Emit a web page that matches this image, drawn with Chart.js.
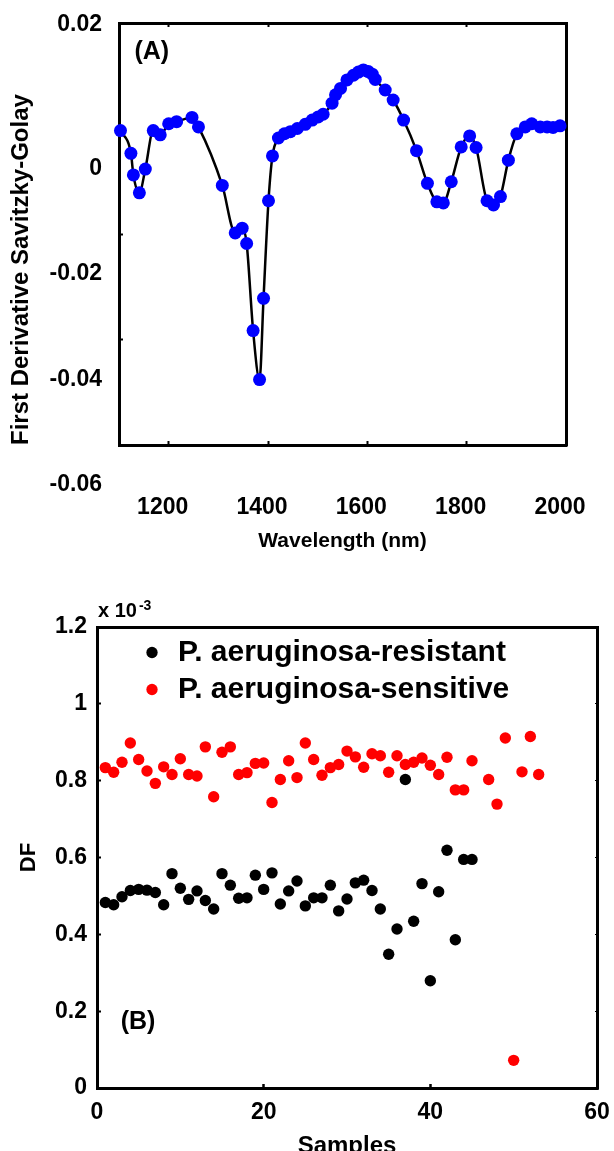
<!DOCTYPE html>
<html>
<head>
<meta charset="utf-8">
<script src="https://cdn.jsdelivr.net/npm/chart.js@4.4.1/dist/chart.umd.min.js"></script>
<style>
  html, body { margin: 0; padding: 0; background: #fff; overflow: hidden; }
  #boxA { position: absolute; left: 0; top: 0; width: 614px; height: 560px; }
  #boxB { position: absolute; left: 0; top: 580px; width: 614px; height: 600px; }
</style>
</head>
<body>
<div id="boxA"><canvas id="chartA" width="614" height="560"></canvas></div>
<div id="boxB"><canvas id="chartB" width="614" height="600"></canvas></div>
<script>
// (A) first derivative spectrum
const wavelength = [1103, 1124, 1129, 1141, 1153, 1169, 1183, 1200, 1216, 1247,
                    1260, 1308, 1334, 1348, 1357, 1370, 1383, 1391, 1401, 1409,
                    1421, 1433, 1445, 1459, 1475, 1489, 1501, 1511, 1529, 1536,
                    1546, 1559, 1572, 1582, 1592, 1602, 1610, 1616, 1636, 1652,
                    1673, 1699, 1721, 1740, 1753, 1769, 1789, 1806, 1819, 1841,
                    1854, 1868, 1884, 1901, 1918, 1931, 1948, 1962, 1974, 1988];
const derivative = [-0.0004, -0.0047, -0.0088, -0.0122, -0.0077, -0.0004, -0.0012, 0.0009, 0.0013, 0.0021,
                    0.0003, -0.0108, -0.0198, -0.0189, -0.0218, -0.0383, -0.0476, -0.0322, -0.0137, -0.0052,
                    -0.0018, -0.0010, -0.0006, 0.0000, 0.0008, 0.0016, 0.0022, 0.0027, 0.0048, 0.0064,
                    0.0076, 0.0092, 0.0101, 0.0107, 0.0111, 0.0108, 0.0103, 0.0093, 0.0073, 0.0054,
                    0.0016, -0.0042, -0.0104, -0.0139, -0.0141, -0.0101, -0.0035, -0.0014, -0.0036, -0.0137,
                    -0.0145, -0.0129, -0.0060, -0.0010, 0.0003, 0.0009, 0.0003, 0.0003, 0.0002, 0.0005];
const xTicksA = [1200, 1400, 1600, 1800, 2000];
const xLabelsA = ['1200', '1400', '1600', '1800', '2000'];
const yTicksA = [-0.06, -0.04, -0.02, 0, 0.02];
const yLabelsA = ['-0.06', '-0.04', '-0.02', '0', '0.02'];

// (B) DF per sample, x 10^-3
const samplesRes = [1, 2, 3, 4, 5, 6, 7, 8, 9, 10, 11, 12, 13, 14, 15, 16, 17, 18, 19, 20, 21, 22, 23,
                    24, 25, 26, 27, 28, 29, 30, 31, 32, 33, 34, 35, 36, 37, 38, 39, 40, 41, 42, 43, 44, 45];
const dfRes = [0.483, 0.477, 0.498, 0.514, 0.517, 0.515, 0.509, 0.477, 0.558, 0.520, 0.491, 0.513,
               0.488, 0.466, 0.558, 0.528, 0.494, 0.495, 0.554, 0.517, 0.560, 0.479, 0.513, 0.539,
               0.474, 0.495, 0.495, 0.528, 0.461, 0.492, 0.534, 0.541, 0.514, 0.466, 0.348, 0.414,
               0.803, 0.434, 0.532, 0.279, 0.511, 0.619, 0.386, 0.595, 0.595];
const samplesSen = [1, 2, 3, 4, 5, 6, 7, 8, 9, 10, 11, 12, 13, 14, 15, 16, 17, 18, 19, 20, 21, 22, 23,
                    24, 25, 26, 27, 28, 29, 30, 31, 32, 33, 34, 35, 36, 37, 38, 39, 40, 41, 42, 43, 44, 45,
                    47, 48, 49, 50, 51, 52, 53];
const dfSen = [0.834, 0.822, 0.848, 0.898, 0.855, 0.825, 0.793, 0.836, 0.816, 0.857, 0.816, 0.812,
               0.888, 0.758, 0.874, 0.888, 0.816, 0.821, 0.845, 0.846, 0.743, 0.803, 0.852, 0.808,
               0.898, 0.855, 0.814, 0.834, 0.842, 0.877, 0.862, 0.835, 0.870, 0.865, 0.822, 0.865,
               0.842, 0.848, 0.859, 0.840, 0.816, 0.861, 0.776, 0.776, 0.852,
               0.803, 0.739, 0.911, 0.072, 0.823, 0.915, 0.816];
const xTicksB = [0, 20, 40, 60];
const xLabelsB = ['0', '20', '40', '60'];
const yTicksB = [0, 0.2, 0.4, 0.6, 0.8, 1, 1.2];
const yLabelsB = ['0', '0.2', '0.4', '0.6', '0.8', '1', '1.2'];

Chart.defaults.font.family = "'Liberation Sans', Arial, sans-serif";
Chart.defaults.font.weight = 'bold';
Chart.defaults.color = '#000';

function setTicks(values) {
    return function(scale) { scale.ticks = values.map(v => ({value: v})); };
}
// fixed thickness, and no extra room asked for overhanging labels
function fixSize(size) {
    return function(scale) {
        if (scale.isHorizontal()) scale.height = size; else scale.width = size;
        scale.paddingLeft = scale.paddingRight = scale.paddingTop = scale.paddingBottom = 0;
    };
}

// free text anchored on data coordinates
const panelText = {
    id: 'panelText',
    afterDraw(chart, args, opts) {
        const ctx = chart.ctx;
        (opts.items || []).forEach(item => {
            let x = chart.scales.x.getPixelForValue(item.x) + (item.dx || 0);
            const y = chart.scales.y.getPixelForValue(item.y) + (item.dy || 0);
            ctx.save();
            ctx.fillStyle = '#000';
            ctx.textAlign = 'left';
            ctx.textBaseline = 'middle';
            ctx.font = item.font;
            ctx.fillText(item.text, x, y);
            if (item.sup) {
                x += ctx.measureText(item.text).width + 2;
                ctx.font = item.supFont;
                ctx.fillText(item.sup, x, y + item.supDy);
            }
            ctx.restore();
        });
    }
};

// moves the legend inside the plot box
const legendSpot = {
    id: 'legendSpot',
    afterLayout(chart, args, opts) {
        const lg = chart.legend, ca = chart.chartArea;
        if (!lg) return;
        lg.left = ca.left + opts.dx;
        lg.right = ca.right;
        lg.top = ca.top + opts.dy;
        lg.bottom = lg.top + lg.height;
    }
};

const boxBorder = {width: 3, color: '#000'};

new Chart(document.getElementById('chartA'), {
    type: 'line',
    data: {
        datasets: [{
            data: wavelength.map((w, i) => ({x: w, y: derivative[i]})),
            borderColor: '#000',
            borderWidth: 2.5,
            pointRadius: 6.5,
            pointBackgroundColor: '#0000ff',
            pointBorderWidth: 0,
            cubicInterpolationMode: 'monotone',
            fill: false,
            clip: false
        }]
    },
    options: {
        responsive: false,
        animation: false,
        devicePixelRatio: 1,
        events: [],
        layout: {padding: {left: 0, top: 23, right: 48, bottom: 0}},
        plugins: {
            legend: {display: false},
            tooltip: {enabled: false},
            panelText: {items: [
                {text: '(A)', x: 1131, y: 0.0144, font: "bold 25px 'Liberation Sans', Arial"}
            ]}
        },
        scales: {
            x: {
                type: 'linear', position: 'bottom', min: 1100, max: 2000,
                afterBuildTicks: setTicks(xTicksA), afterFit: fixSize(115),
                grid: {drawOnChartArea: false, tickLength: -4, tickWidth: 2, color: '#000'},
                border: boxBorder,
                ticks: {padding: 53, labelOffset: -6, autoSkip: false, maxRotation: 0,
                        font: {size: 23, weight: 'bold'},
                        callback: (v, i) => xLabelsA[i]},
                title: {display: true, text: 'Wavelength (nm)', font: {size: 21, weight: 'bold'},
                        padding: {top: 0, bottom: 6}}
            },
            x2: {
                type: 'linear', axis: 'x', position: 'top', min: 1100, max: 2000,
                afterBuildTicks: setTicks(xTicksA.slice(0, 4)), afterFit: fixSize(0),
                grid: {drawOnChartArea: false, tickLength: -4, tickWidth: 2, color: '#000'},
                border: boxBorder,
                ticks: {display: false}
            },
            y: {
                type: 'linear', position: 'left', min: -0.06, max: 0.02,
                afterBuildTicks: setTicks(yTicksA), afterFit: fixSize(119),
                grid: {drawOnChartArea: false, tickLength: -4, tickWidth: 2, color: '#000'},
                border: boxBorder,
                ticks: {
                    padding: 21, labelOffset: 40, autoSkip: false,
                    font: {size: 23, weight: 'bold', lineHeight: 1.1},
                    callback: (v, i) => i === yTicksA.length - 1 ? [yLabelsA[i], '', '', ''] : yLabelsA[i]
                },
                title: {display: true, text: 'First Derivative Savitzky-Golay', align: 'start',
                        font: {size: 24, weight: 'bold'}, padding: {top: 7, bottom: 0}}
            },
            y2: {
                type: 'linear', axis: 'y', position: 'right', min: -0.06, max: 0.02,
                afterFit: fixSize(0),
                grid: {display: false},
                border: boxBorder,
                ticks: {display: false}
            }
        }
    },
    plugins: [panelText]
});

new Chart(document.getElementById('chartB'), {
    type: 'scatter',
    data: {
        datasets: [
            {
                label: 'P. aeruginosa-resistant',
                data: samplesRes.map((s, i) => ({x: s, y: dfRes[i]})),
                pointRadius: 5.7,
                pointBackgroundColor: '#000',
                backgroundColor: '#000',
                pointBorderWidth: 0,
                borderWidth: 0,
                clip: false
            },
            {
                label: 'P. aeruginosa-sensitive',
                data: samplesSen.map((s, i) => ({x: s, y: dfSen[i]})),
                pointRadius: 5.7,
                pointBackgroundColor: '#ff0000',
                backgroundColor: '#ff0000',
                pointBorderWidth: 0,
                borderWidth: 0,
                clip: false
            }
        ]
    },
    options: {
        responsive: false,
        animation: false,
        devicePixelRatio: 1,
        events: [],
        layout: {padding: {left: 0, top: 47, right: 17, bottom: 0}},
        plugins: {
            tooltip: {enabled: false},
            legend: {
                display: true, position: 'chartArea', align: 'start',
                labels: {usePointStyle: true, pointStyle: 'circle', boxHeight: 8, boxWidth: 22,
                         padding: 7, color: '#000', font: {size: 30, weight: 'bold'}}
            },
            legendSpot: {dx: 37, dy: 3.5},
            panelText: {items: [
                {text: '(B)', x: 2.84, y: 0.1705, font: "bold 25px 'Liberation Sans', Arial"},
                {text: 'x 10', x: 0, y: 1.2, dx: 1, dy: -16, font: "bold 20px 'Liberation Sans', Arial",
                 sup: '-3', supFont: "bold 14px 'Liberation Sans', Arial", supDy: -5}
            ]}
        },
        scales: {
            x: {
                type: 'linear', position: 'bottom', min: 0, max: 60,
                afterBuildTicks: setTicks(xTicksB), afterFit: fixSize(92),
                grid: {drawOnChartArea: false, tickLength: -4, tickWidth: 2.5, color: '#000'},
                border: boxBorder,
                ticks: {padding: 15, autoSkip: false, maxRotation: 0, font: {size: 23, weight: 'bold'},
                        callback: (v, i) => xLabelsB[i]},
                title: {display: true, text: 'Samples', font: {size: 24, weight: 'bold'},
                        padding: {top: 0, bottom: 19}}
            },
            x2: {
                type: 'linear', axis: 'x', position: 'top', min: 0, max: 60,
                afterFit: fixSize(0),
                grid: {display: false},
                border: boxBorder,
                ticks: {display: false}
            },
            y: {
                type: 'linear', position: 'left', min: 0, max: 1.2,
                afterBuildTicks: setTicks(yTicksB), afterFit: fixSize(97),
                grid: {drawOnChartArea: false, tickLength: -4, tickWidth: 2, color: '#000'},
                border: boxBorder,
                ticks: {padding: 14, autoSkip: false, font: {size: 23, weight: 'bold'},
                        callback: (v, i) => yLabelsB[i]},
                title: {display: true, text: 'DF', font: {size: 22, weight: 'bold'},
                        padding: {top: 16, bottom: 0}}
            },
            y2: {
                type: 'linear', axis: 'y', position: 'right', min: 0, max: 1.2,
                afterBuildTicks: setTicks(yTicksB.slice(1, 6)), afterFit: fixSize(0),
                grid: {drawOnChartArea: false, tickLength: -2, tickWidth: 1, color: '#000'},
                border: boxBorder,
                ticks: {display: false}
            }
        }
    },
    plugins: [panelText, legendSpot]
});
</script>
</body>
</html>
